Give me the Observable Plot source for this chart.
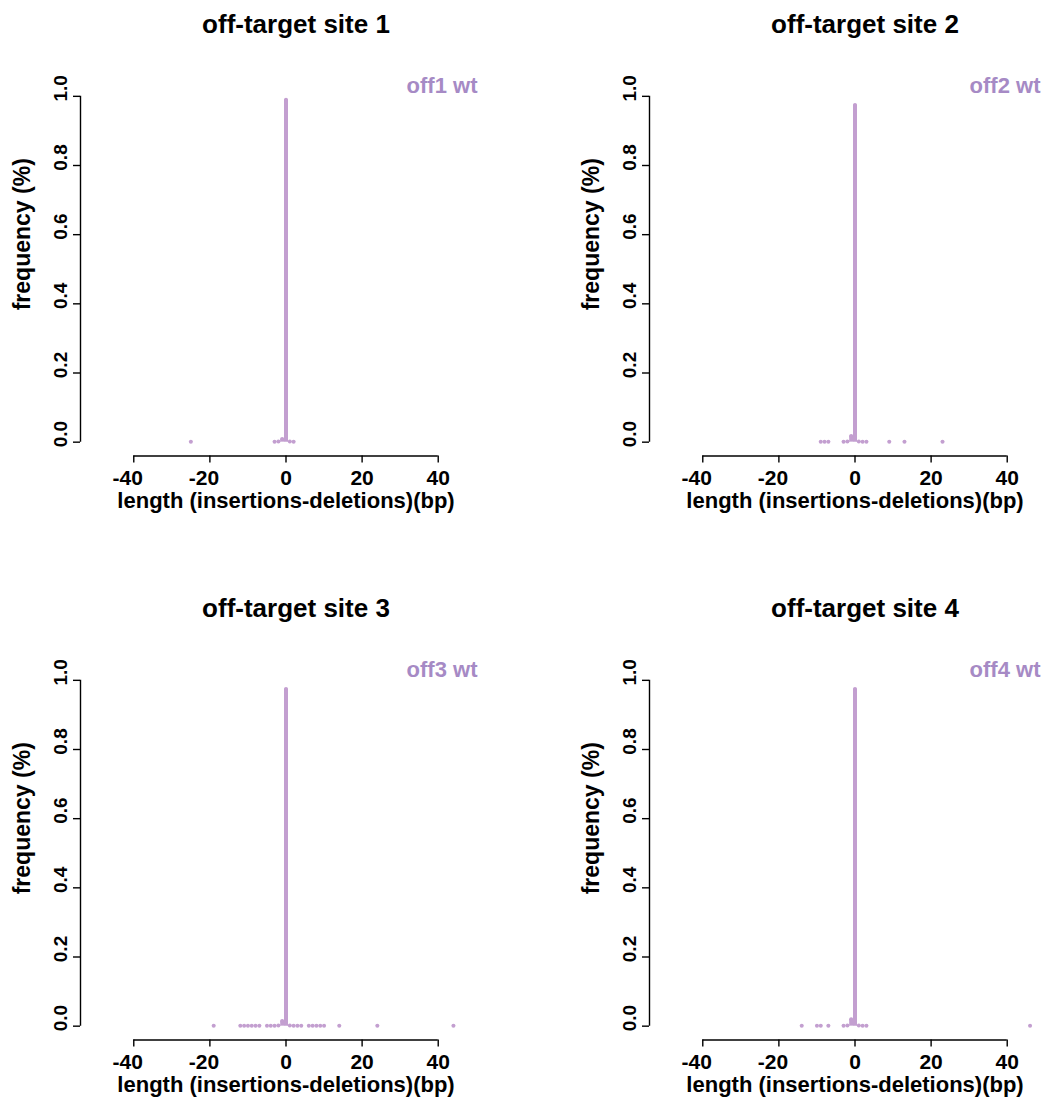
<!DOCTYPE html>
<html>
<head>
<meta charset="utf-8">
<script src="https://cdn.jsdelivr.net/npm/d3@7"></script>
<script src="https://cdn.jsdelivr.net/npm/@observablehq/plot@0.6"></script>
<style>
  html, body { margin: 0; padding: 0; background: #fff; overflow: hidden; }
  #wrap { position: relative; width: 1047px; height: 1101px; overflow: hidden; background: #fff; }
  .panel { position: absolute; }
</style>
</head>
<body>
<div id="wrap"></div>
<script>
// ---- data ----
const titles = ["off-target site 1", "off-target site 2", "off-target site 3", "off-target site 4"];
const legendLabels = ["off1 wt", "off2 wt", "off3 wt", "off4 wt"];

const len1 = [-25, -3, -2, -1, 0, 1, 2];
const freq1 = [0.001, 0.001, 0.002, 0.009, 0.99, 0.002, 0.001];

const len2 = [-9, -8, -7, -3, -2, -1, 0, 1, 2, 3, 9, 13, 23];
const freq2 = [0.001, 0.001, 0.001, 0.001, 0.002, 0.018, 0.975, 0.002, 0.001, 0.001, 0.001, 0.001, 0.001];

const len3 = [-19, -12, -11, -10, -9, -8, -7, -5, -4, -3, -2, -1, 0, 1, 2, 3, 4, 6, 7, 8, 9, 10, 14, 24, 44];
const freq3 = [0.001, 0.001, 0.001, 0.001, 0.001, 0.001, 0.001, 0.001, 0.001, 0.001, 0.002, 0.015, 0.975, 0.002, 0.001, 0.001, 0.001, 0.001, 0.001, 0.001, 0.001, 0.001, 0.001, 0.001, 0.001];

const len4 = [-14, -10, -9, -7, -3, -2, -1, 0, 1, 2, 3, 46];
const freq4 = [0.001, 0.001, 0.001, 0.001, 0.001, 0.002, 0.02, 0.975, 0.002, 0.001, 0.001, 0.001];

const xTicks = [-40, -20, 0, 20, 40];
const yTicks = [0, 0.2, 0.4, 0.6, 0.8, 1.0];
const xLabel = "length (insertions-deletions)(bp)";
const yLabel = "frequency (%)";

// ---- styling ----
const pointColor = "#C39FD0";
const legendColor = "#A68AC5";
const font = "'Liberation Sans', Arial, Helvetica, sans-serif";
const xDomain = [-54, 54];
const yDomain = [-0.04, 1.04];
const legendInset = [-14, -20];

const series = [[len1, freq1], [len2, freq2], [len3, freq3], [len4, freq4]];
const wrap = document.getElementById("wrap");

series.forEach(([xs, ys], i) => {
  const data = xs.map((x, j) => ({x, y: ys[j]}));
  const col = i % 2, row = Math.floor(i / 2);
  const tickText = {anchor: "bottom", tickSize: 0, tickPadding: 14, fontSize: 21, fontWeight: "bold", tickFormat: d => String(d), label: null};
  const chart = Plot.plot({
    width: 569,
    height: 584,
    marginLeft: 80,
    marginRight: 78,
    marginTop: 82,
    marginBottom: 128.5,
    style: {fontFamily: font, fontWeight: "bold", color: "#000", background: "transparent", overflow: "visible"},
    x: {domain: xDomain, axis: null},
    y: {domain: yDomain, axis: null},
    marks: [
      // axes (R style)
      Plot.ruleY([yDomain[0]], {x1: xTicks[0], x2: xTicks[xTicks.length - 1], stroke: "#000", strokeWidth: 1.4}),
      Plot.ruleX([xDomain[0]], {y1: yTicks[0], y2: yTicks[yTicks.length - 1], stroke: "#000", strokeWidth: 1.4}),
      Plot.axisX(xTicks, {anchor: "bottom", tickSize: 7, tickFormat: () => "", strokeWidth: 1.4, label: null}),
      Plot.axisX(xTicks.filter(d => d < 0), {...tickText, dx: -6}),
      Plot.axisX(xTicks.filter(d => d >= 0), tickText),
      Plot.axisY(yTicks, {anchor: "left", tickSize: 7, tickFormat: () => "", strokeWidth: 1.4, label: null}),
      Plot.axisY(yTicks, {anchor: "left", tickSize: 0, tickPadding: 14, tickRotate: -90, dy: -8, fontSize: 19, fontWeight: "bold",
        tickFormat: d => d.toFixed(1), label: null}),
      // data
      Plot.ruleX(data, {x: "x", y1: 0, y2: "y", stroke: pointColor, strokeWidth: 4}),
      Plot.dot(data, {x: "x", y: "y", r: 2, fill: pointColor, stroke: null}),
      // texts
      Plot.text([titles[i]], {frameAnchor: "top", dx: 10, dy: -58, fontSize: 26, fontWeight: "bold", fill: "#000", lineAnchor: "middle"}),
      Plot.text([legendLabels[i]], {frameAnchor: "top-right", dx: legendInset[col], dy: 3, textAnchor: "end", lineAnchor: "middle", fontSize: 22, fontWeight: "bold", fill: legendColor}),
      Plot.text([xLabel], {frameAnchor: "bottom", dy: 45, lineAnchor: "middle", fontSize: 22, fontWeight: "bold", fill: "#000"}),
      Plot.text([yLabel], {frameAnchor: "left", dx: -58, dy: -35, rotate: -90, textAnchor: "middle", lineAnchor: "middle", fontSize: 23, fontWeight: "bold", fill: "#000"})
    ]
  });
  chart.classList.add("panel");
  chart.style.left = (col * 569) + "px";
  chart.style.top = (row * 584) + "px";
  wrap.appendChild(chart);
});
</script>
</body>
</html>
